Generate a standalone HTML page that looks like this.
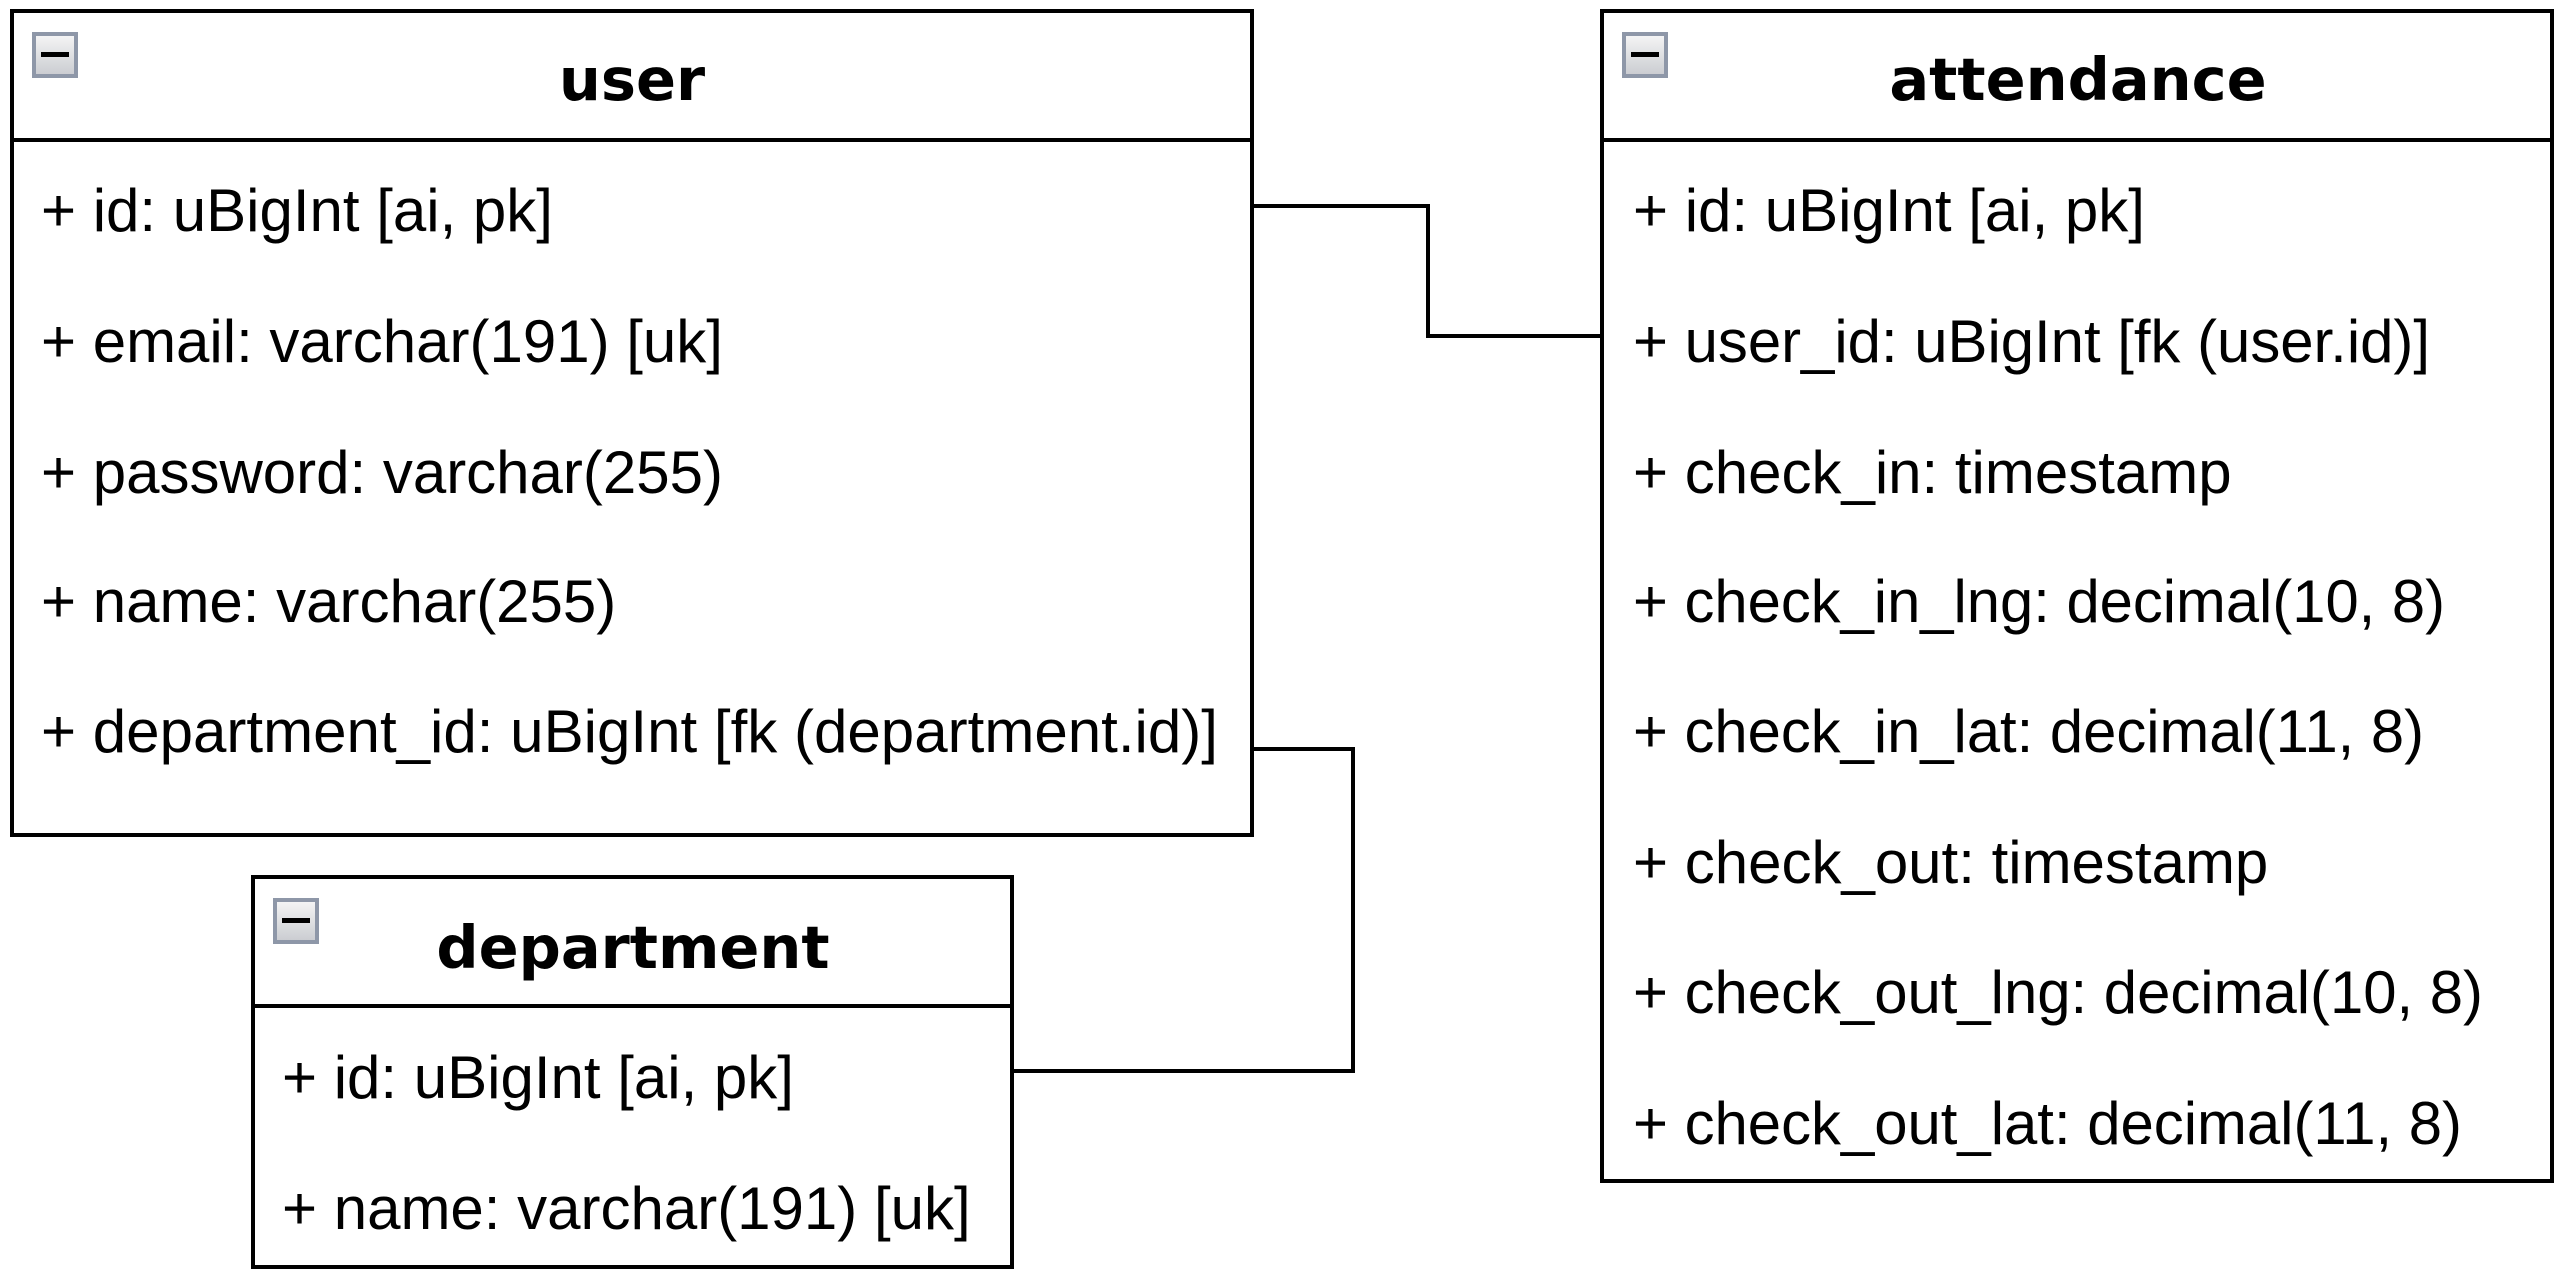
<!DOCTYPE html>
<html><head><meta charset="utf-8"><style>
html,body{margin:0;padding:0;background:#fff;}
svg{display:block;}
.t{font-family:"Liberation Sans",Arial,sans-serif;font-size:60px;fill:#000;}
.h{font-family:"DejaVu Sans",sans-serif;font-weight:bold;font-size:59px;fill:#000;}
</style></head><body>
<svg width="2566" height="1278" viewBox="0 0 2566 1278" xmlns="http://www.w3.org/2000/svg">
<defs>
<linearGradient id="g" x1="0" y1="0" x2="0" y2="1"><stop offset="0" stop-color="#f6f6f6"/><stop offset="1" stop-color="#c9cbd0"/></linearGradient>
<g id="ic"><rect x="2" y="2" width="42" height="42" fill="url(#g)" stroke="#8e97a8" stroke-width="4"/><rect x="9" y="20" width="28" height="5" fill="#000"/></g>
</defs>
<g fill="none" stroke="#000" stroke-width="4">
<rect x="12" y="11" width="1240" height="824"/>
<line x1="12" y1="140" x2="1252" y2="140"/>
<rect x="1602" y="11" width="950" height="1170"/>
<line x1="1602" y1="140" x2="2552" y2="140"/>
<rect x="253" y="877" width="759" height="390"/>
<line x1="253" y1="1006" x2="1012" y2="1006"/>
<polyline points="1252,206 1428,206 1428,336 1602,336"/>
<polyline points="1252,749 1353,749 1353,1071 1012,1071"/>
</g>
<use href="#ic" x="32" y="32"/>
<use href="#ic" x="1622" y="32"/>
<use href="#ic" x="273" y="898"/>
<text class="h" x="632" y="100" text-anchor="middle">user</text>
<text class="h" x="2078" y="100" text-anchor="middle">attendance</text>
<text class="h" x="633" y="968" text-anchor="middle">department</text>
<g class="t">
<text x="41" y="231">+ id: uBigInt [ai, pk]</text>
<text x="41" y="362">+ email: varchar(191) [uk]</text>
<text x="41" y="493">+ password: varchar(255)</text>
<text x="41" y="622">+ name: varchar(255)</text>
<text x="41" y="752" textLength="1177" lengthAdjust="spacingAndGlyphs">+ department_id: uBigInt [fk (department.id)]</text>
<text x="1633" y="231">+ id: uBigInt [ai, pk]</text>
<text x="1633" y="362" textLength="797" lengthAdjust="spacingAndGlyphs">+ user_id: uBigInt [fk (user.id)]</text>
<text x="1633" y="493">+ check_in: timestamp</text>
<text x="1633" y="622" textLength="812" lengthAdjust="spacingAndGlyphs">+ check_in_lng: decimal(10, 8)</text>
<text x="1633" y="752" textLength="791" lengthAdjust="spacingAndGlyphs">+ check_in_lat: decimal(11, 8)</text>
<text x="1633" y="883">+ check_out: timestamp</text>
<text x="1633" y="1013" textLength="850" lengthAdjust="spacingAndGlyphs">+ check_out_lng: decimal(10, 8)</text>
<text x="1633" y="1144" textLength="829" lengthAdjust="spacingAndGlyphs">+ check_out_lat: decimal(11, 8)</text>
<text x="282" y="1098">+ id: uBigInt [ai, pk]</text>
<text x="282" y="1229">+ name: varchar(191) [uk]</text>
</g>
</svg>
</body></html>
